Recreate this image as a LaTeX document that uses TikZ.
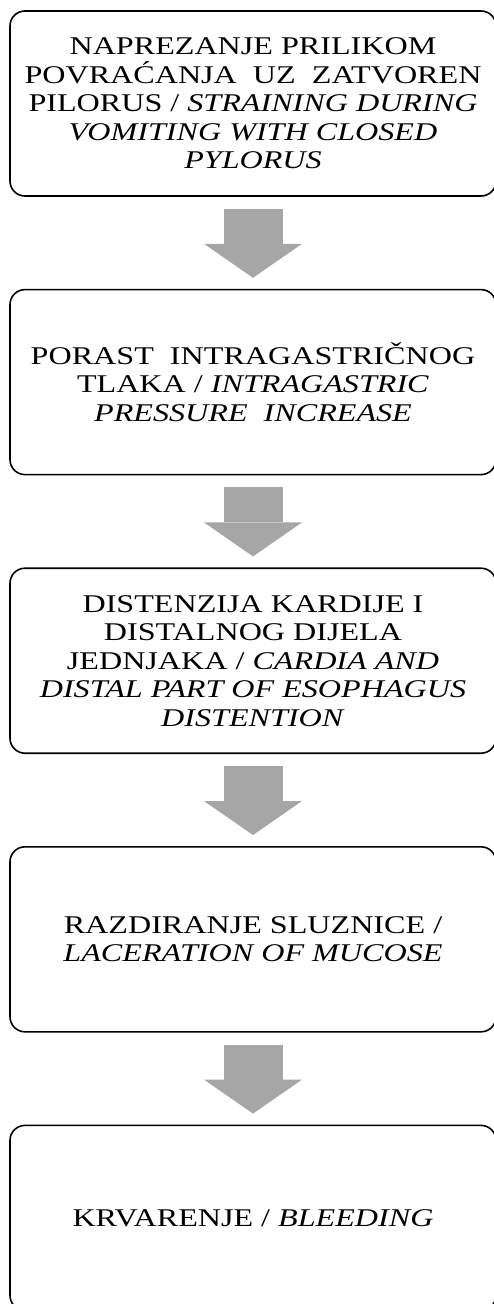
\documentclass[tikz,border=0pt]{standalone}
\usepackage{fontspec}
\setmainfont{Liberation Serif}[FakeStretch=1.26]
\usetikzlibrary{positioning,arrows.meta}
\definecolor{arrowgray}{HTML}{A6A6A6}
\tikzset{
  stepbox/.style={draw, line width=1.6pt, rounded corners=15pt, minimum width=486pt,
    minimum height=185pt, align=center, inner sep=0pt,
    font=\fontsize{25.5}{28.5}\selectfont},
  bigarrow/.style={draw=none, arrowgray, line width=59pt, shorten <=12pt, shorten >=11pt,
    -{Triangle[width=98pt,length=34pt,line width=0pt]}}
}

\begin{document}
\begin{tikzpicture}[x=1pt,y=-1pt,node distance=92pt]
\useasboundingbox (0,0) rectangle (494,1304);
\node[stepbox] (B1) at (253,103.5) {NAPREZANJE PRILIKOM\\POVRAĆANJA\ \ UZ\ \ ZATVOREN\\PILORUS / \textit{STRAINING DURING}\\\textit{VOMITING WITH CLOSED}\\\textit{PYLORUS}};
\node[stepbox, below=of B1] (B2) {PORAST\ \ INTRAGASTRIČNOG\\TLAKA / \textit{INTRAGASTRIC}\\\textit{PRESSURE\ \ INCREASE}};
\node[stepbox, below=of B2] (B3) {DISTENZIJA KARDIJE I\\DISTALNOG DIJELA\\JEDNJAKA / \textit{CARDIA AND}\\\textit{DISTAL PART OF ESOPHAGUS}\\\textit{DISTENTION}};
\node[stepbox, below=of B3] (B4) {RAZDIRANJE SLUZNICE /\\\textit{LACERATION OF MUCOSE}};
\node[stepbox, below=of B4] (B5) {KRVARENJE / \textit{BLEEDING}};
\path[bigarrow]

(B1) edge (B2)
(B2) edge (B3)
(B3) edge (B4)
(B4) edge (B5);
\end{tikzpicture}
\end{document}
